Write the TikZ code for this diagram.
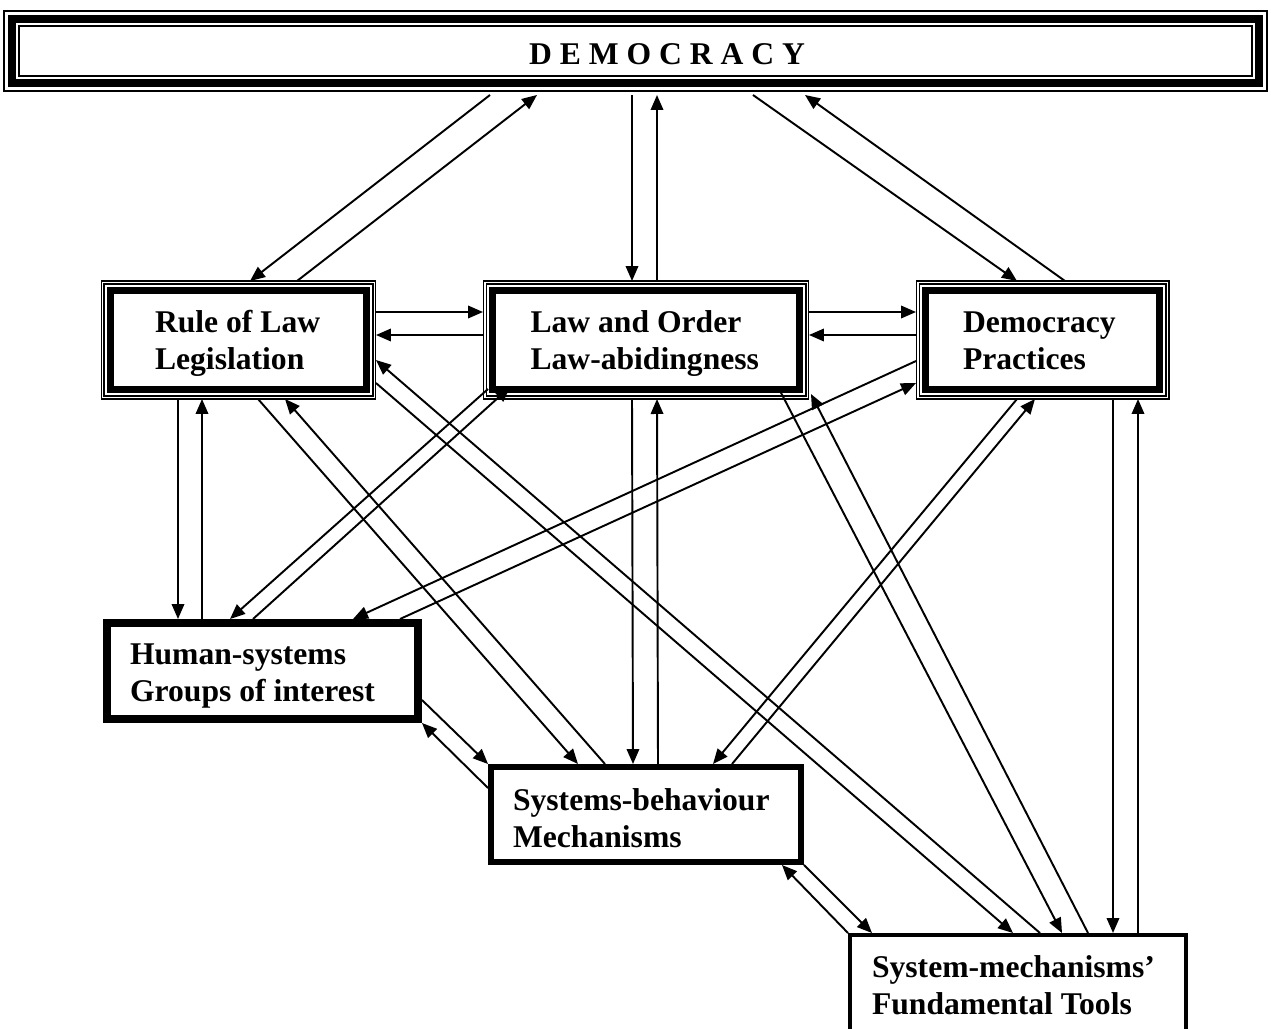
\documentclass[tikz,border=0pt]{standalone}
\usepackage{fontspec}
\setmainfont{Liberation Serif}
\usetikzlibrary{arrows.meta}

\begin{document}
\begin{tikzpicture}[x=0.02cm, y=-0.02cm]
  \tikzstyle{block} = [rectangle, draw, align=flush left, inner sep=0pt, text height=17pt, font=\bfseries\fontsize{18}{21}\selectfont]
  \tikzstyle{lawblock} = [block, line width=0.14cm, minimum height=2cm, outer sep=0.18cm, text depth=25pt]
  \tikzstyle{frame} = [double, line width=0.6pt, double distance=1.1pt]
  \tikzstyle{arrow} = [line width=1.1pt, -{Triangle[length=0.3cm, width=0.25cm]}]

  \useasboundingbox (0,0) rectangle (1271,1028);

  \node [rectangle, draw, line width=0.16cm, minimum width=24.94cm, minimum height=1.28cm, outer sep=0.24cm] (democracy) at (635.5,51) {};
  \node [font=\bfseries\fontsize{18}{21}\selectfont] (title) at (667,54) {D E M O C R A C Y};
  \node [lawblock, minimum width=5.14cm, text width=3.34cm] (rule) at (238.5,340) {Rule of Law\\Legislation};
  \node [lawblock, minimum width=6.16cm, text width=4.62cm] (order) at (646,340) {Law and Order\\Law-abidingness};
  \node [lawblock, minimum width=4.7cm, text width=3.18cm] (practice) at (1042.5,340) {Democracy\\Practices};
  \node [block, line width=0.16cm, minimum width=6.22cm, minimum height=1.92cm, text width=5.3cm] (human) at (262.5,671) {Human-systems\\Groups of interest};
  \node [block, line width=0.12cm, minimum width=6.2cm, minimum height=1.9cm, text width=5.32cm] (behaviour) at (646,814.5) {Systems-behaviour\\Mechanisms};
  \node [block, line width=0.08cm, minimum width=6.72cm, minimum height=2.1cm, text width=5.84cm, text height=9.6pt] (tools) at (1018,987.5) {System-mechanisms'\\Fundamental Tools};

  \draw [line width=0.8pt] ([shift={(4,-4)}]democracy.south west) rectangle ([shift={(-4,4)}]democracy.north east);
  \draw [line width=0.8pt] ([shift={(19,-19)}]democracy.south west) rectangle ([shift={(-19,19)}]democracy.north east);
  \foreach \n in {rule,order,practice}
    \draw [frame] ([shift={(1.5,-1.5)}]\n.south west) rectangle ([shift={(-1.5,1.5)}]\n.north east);

  \draw [arrow] ([shift={(-145.5,0)}]democracy.south) -- ([shift={(11.5,0)}]rule.north);
  \draw [arrow] ([shift={(58.5,0)}]rule.north) -- ([shift={(-98.5,0)}]democracy.south);
  \draw [arrow] ([shift={(-3.5,0)}]democracy.south) -- ([shift={(-14,0)}]order.north);
  \draw [arrow] ([shift={(11,0)}]order.north) -- ([shift={(21.5,0)}]democracy.south);
  \draw [arrow] ([shift={(117.5,0)}]democracy.south) -- ([shift={(-25.5,0)}]practice.north);
  \draw [arrow] ([shift={(22.5,0)}]practice.north) -- ([shift={(169.5,0)}]democracy.south);

  \draw [arrow] ([shift={(0,-28)}]rule.east) -- ([shift={(0,-28)}]order.west);
  \draw [arrow] ([shift={(0,-5)}]order.west) -- ([shift={(0,-5)}]rule.east);
  \draw [arrow] ([shift={(0,-28)}]order.east) -- ([shift={(0,-28)}]practice.west);
  \draw [arrow] ([shift={(0,-5)}]practice.west) -- ([shift={(0,-5)}]order.east);

  \draw [arrow] ([shift={(-60.5,0)}]rule.south) -- ([shift={(-84.5,0)}]human.north);
  \draw [arrow] ([shift={(-60.5,0)}]human.north) -- ([shift={(-36.5,0)}]rule.south);
  \draw [arrow] ([shift={(19.5,0)}]rule.south) -- ([shift={(-68,0)}]behaviour.north);
  \draw [arrow] ([shift={(-41,0)}]behaviour.north) -- ([shift={(46.5,0)}]rule.south);
  \draw [arrow] ([shift={(0,43)}]rule.east) -- ([shift={(-5,0)}]tools.north);
  \draw [arrow] ([shift={(22,0)}]tools.north) -- ([shift={(0,20)}]rule.east);

  \draw [arrow] ([shift={(-14,0)}]order.south) -- ([shift={(-13,0)}]behaviour.north);
  \draw [arrow] ([shift={(12,0)}]behaviour.north) -- ([shift={(11,0)}]order.south);
  \draw [arrow] ([shift={(5,-10)}]order.south west) -- ([shift={(-32.5,0)}]human.north);
  \draw [arrow] ([shift={(-9.5,0)}]human.north) -- ([shift={(27,-12)}]order.south west);
  \draw [arrow] ([shift={(132,-12)}]order.south) -- ([shift={(44,0)}]tools.north);
  \draw [arrow] ([shift={(70,0)}]tools.north) -- ([shift={(2,-5)}]order.south east);

  \draw [arrow] ([shift={(0,21)}]practice.west) -- ([shift={(90.5,0)}]human.north);
  \draw [arrow] ([shift={(137.5,0)}]human.north) -- ([shift={(0,43)}]practice.west);
  \draw [arrow] ([shift={(-25.5,0)}]practice.south) -- ([shift={(67,0)}]behaviour.north);
  \draw [arrow] ([shift={(86,0)}]behaviour.north) -- ([shift={(-7.5,0)}]practice.south);
  \draw [arrow] ([shift={(70.5,0)}]practice.south) -- ([shift={(95,0)}]tools.north);
  \draw [arrow] ([shift={(120,0)}]tools.north) -- ([shift={(95.5,0)}]practice.south);

  \draw [arrow] ([shift={(0,29)}]human.east) -- (behaviour.north west);
  \draw [arrow] ([shift={(0,-26.5)}]behaviour.west) -- (human.south east);
  \draw [arrow] (tools.north west) -- ([shift={(136,0)}]behaviour.south);
  \draw [arrow] (behaviour.south east) -- ([shift={(-146,0)}]tools.north);
\end{tikzpicture}
\end{document}
